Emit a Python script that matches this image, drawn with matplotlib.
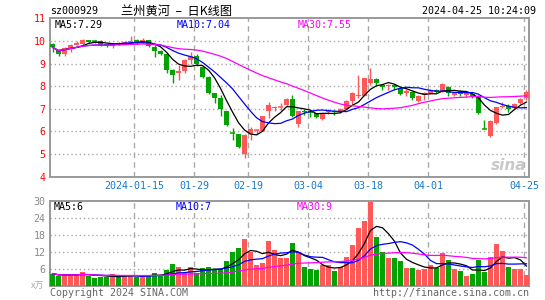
import matplotlib
matplotlib.use('Agg')
import matplotlib.pyplot as plt
import numpy as np
import pandas as pd

# ---------------- data ----------------
dates = [
    '2023-12-25', '2023-12-26', '2023-12-27', '2023-12-28', '2023-12-29',
    '2024-01-02', '2024-01-03', '2024-01-04', '2024-01-05',
    '2024-01-08', '2024-01-09', '2024-01-10', '2024-01-11', '2024-01-12',
    '2024-01-15', '2024-01-16', '2024-01-17', '2024-01-18', '2024-01-19',
    '2024-01-22', '2024-01-23', '2024-01-24', '2024-01-25', '2024-01-26',
    '2024-01-29', '2024-01-30', '2024-01-31', '2024-02-01', '2024-02-02',
    '2024-02-05', '2024-02-06', '2024-02-07', '2024-02-08',
    '2024-02-19', '2024-02-20', '2024-02-21', '2024-02-22', '2024-02-23',
    '2024-02-26', '2024-02-27', '2024-02-28', '2024-02-29', '2024-03-01',
    '2024-03-04', '2024-03-05', '2024-03-06', '2024-03-07', '2024-03-08',
    '2024-03-11', '2024-03-12', '2024-03-13', '2024-03-14', '2024-03-15',
    '2024-03-18', '2024-03-19', '2024-03-20', '2024-03-21', '2024-03-22',
    '2024-03-25', '2024-03-26', '2024-03-27', '2024-03-28', '2024-03-29',
    '2024-04-01', '2024-04-02', '2024-04-03',
    '2024-04-08', '2024-04-09', '2024-04-10', '2024-04-11', '2024-04-12',
    '2024-04-15', '2024-04-16', '2024-04-17', '2024-04-18', '2024-04-19',
    '2024-04-22', '2024-04-23', '2024-04-24', '2024-04-25',
]

opens = [9.88, 9.62, 9.44, 9.70, 9.84, 9.86, 10.02, 9.98, 10.00, 9.85,
         9.78, 9.92, 9.88, 9.96, 10.03, 9.91, 10.03, 9.74, 9.56, 9.41,
         8.71, 8.59, 8.66, 9.15, 9.35, 8.85, 8.41, 7.68, 7.46, 6.90,
         5.92, 5.88, 5.00, 5.88, 6.08, 6.02, 6.91, 7.04, 7.07, 7.15,
         7.43, 6.35, 6.92, 6.90, 6.80, 6.53, 6.86, 6.90, 6.84, 7.00,
         7.34, 7.55, 7.57, 8.12, 8.30, 8.04, 8.00, 8.04, 7.94, 7.71,
         7.75, 7.36, 7.60, 7.71, 7.82, 7.75, 7.97, 7.62, 7.78, 7.60,
         7.64, 7.56, 6.13, 5.79, 6.38, 7.10, 7.12, 7.04, 7.26, 7.46]
highs = [9.92, 9.66, 9.72, 9.86, 9.98, 10.08, 10.06, 10.02, 10.02, 9.88,
         9.92, 9.97, 10.00, 10.22, 10.08, 10.12, 10.06, 9.80, 9.62, 9.45,
         8.74, 8.93, 9.20, 9.50, 9.42, 8.88, 8.45, 7.70, 7.60, 6.92,
         6.14, 5.90, 5.88, 6.18, 6.12, 6.70, 7.31, 7.14, 7.24, 7.48,
         7.60, 6.92, 6.98, 6.95, 6.82, 6.80, 7.00, 6.96, 7.05, 7.38,
         7.76, 8.48, 8.36, 8.79, 8.38, 8.08, 8.10, 8.10, 7.96, 7.86,
         7.80, 7.62, 7.74, 7.86, 7.86, 8.12, 8.02, 7.76, 7.84, 7.72,
         7.70, 7.60, 6.50, 6.50, 7.08, 7.30, 7.20, 7.24, 7.46, 7.82]
lows = [9.50, 9.32, 9.33, 9.52, 9.80, 9.83, 9.93, 9.90, 9.78, 9.72,
        9.70, 9.84, 9.85, 9.93, 9.85, 9.90, 9.75, 9.29, 9.38, 8.59,
        8.15, 8.26, 8.60, 9.00, 8.90, 8.35, 7.66, 7.26, 6.69, 6.24,
        5.62, 5.28, 4.81, 5.60, 5.90, 6.00, 6.59, 6.90, 6.94, 7.12,
        6.62, 6.21, 6.72, 6.62, 6.58, 6.50, 6.78, 6.72, 6.80, 6.98,
        7.16, 7.50, 7.55, 8.04, 8.00, 7.82, 7.82, 7.84, 7.60, 7.56,
        7.40, 7.31, 7.40, 7.66, 7.72, 7.74, 7.57, 7.56, 7.56, 7.54,
        7.50, 6.78, 6.13, 5.76, 6.34, 7.04, 6.87, 7.00, 7.22, 7.40]
closes = [9.72, 9.42, 9.70, 9.83, 9.90, 10.05, 9.96, 9.95, 9.82, 9.76,
          9.90, 9.87, 9.97, 10.00, 9.92, 10.06, 9.76, 9.56, 9.41, 8.72,
          8.51, 8.68, 9.15, 9.32, 8.98, 8.42, 7.68, 7.46, 6.99, 6.28,
          5.89, 5.32, 5.84, 6.09, 6.10, 6.68, 7.16, 7.10, 7.10, 7.42,
          6.68, 6.90, 6.88, 6.82, 6.62, 6.78, 6.90, 6.84, 7.00, 7.34,
          7.71, 7.60, 8.34, 8.32, 8.13, 7.97, 8.04, 7.98, 7.66, 7.79,
          7.47, 7.58, 7.68, 7.82, 7.76, 8.09, 7.68, 7.72, 7.65, 7.68,
          7.56, 6.81, 6.13, 6.46, 7.06, 7.14, 6.97, 7.20, 7.43, 7.75]
volumes = [4.3, 3.5, 3.8, 3.8, 4.0, 4.8, 3.5, 2.8, 3.2, 3.0,
           4.2, 3.0, 3.6, 3.8, 3.2, 3.4, 3.8, 4.6, 3.7, 5.5,
           7.6, 6.5, 4.4, 6.5, 4.6, 6.2, 6.5, 5.8, 6.0, 8.7,
           12.1, 13.2, 16.5, 12.0, 7.3, 7.9, 15.7, 12.6, 9.8, 9.9,
           15.2, 11.8, 6.7, 6.0, 5.6, 7.3, 7.3, 5.3, 6.8, 10.3,
           14.4, 20.5, 23.0, 29.8, 17.4, 12.0, 9.9, 9.8, 8.9, 6.3,
           6.4, 5.6, 6.0, 7.3, 6.3, 11.7, 9.1, 6.0, 5.3, 3.4,
           4.1, 9.2, 4.9, 10.1, 14.8, 12.3, 6.7, 6.0, 6.0, 3.9]

tick_dates = ['2024-01-15', '2024-01-29', '2024-02-19', '2024-03-04',
              '2024-03-18', '2024-04-01', '2024-04-25']
tick_labels = ['2024-01-15', '01-29', '02-19', '03-04', '03-18', '04-01', '04-25']
price_ticks = [4, 5, 6, 7, 8, 9, 10, 11]
vol_ticks = [6, 12, 18, 24, 30]
ma_periods = [5, 10, 30]
ma_colors = ['#000000', '#0000ff', '#ff00ff']
price_ma_text = ['7.29', '7.04', '7.55']
vol_ma_text = ['6', '7', '9']
stock_code = 'sz000929'
title_text = '兰州黄河  –  日K线图'
timestamp = '2024-04-25 10:24:09'
vol_unit = 'x万'
copyright_text = 'Copyright 2024 SINA.COM'
url_text = 'http://finance.sina.com.cn'

# ---------------- styling ----------------
RED = '#ff5858'
GREEN = '#04a304'
GRID = '#aaaaaa'
FRAME = '#999999'
BLUE_LBL = '#1a78c8'
MONO = 'DejaVu Sans Mono'
FS = 7.2

W, H = 545, 300
fig = plt.figure(figsize=(W / 100, H / 100), dpi=100)
fig.patch.set_facecolor('white')


def fx(px):
    return px / W


def fy(py):
    return 1 - py / H


main_l, main_r, main_t, main_b = 50, 529.3, 18.3, 176.7
vol_t, vol_b = 201.0, 285.8
ax = fig.add_axes([fx(main_l), fy(main_b), (main_r - main_l) / W, (main_b - main_t) / H])
axv = fig.add_axes([fx(main_l), fy(vol_b), (main_r - main_l) / W, (vol_b - vol_t) / H])

n = len(dates)
x = np.arange(n)
o = np.array(opens)
h = np.array(highs)
l = np.array(lows)
c = np.array(closes)
v = np.array(volumes)

colors = []
for i in range(n):
    if c[i] > o[i]:
        colors.append(RED)
    elif c[i] < o[i]:
        colors.append(GREEN)
    else:
        prev = c[i - 1] if i > 0 else o[i]
        colors.append(RED if c[i] >= prev else GREEN)

tick_pos = [dates.index(d) - 0.37 for d in tick_dates]

for a in (ax, axv):
    a.set_xlim(-0.42, n - 0.53)
    for sp in a.spines.values():
        sp.set_color(FRAME)
        sp.set_linewidth(1.4)
    for tp in tick_pos:
        a.axvline(tp, color=GRID, lw=1, ls=(0, (4, 3)), zorder=1)

ax.set_ylim(4, 11)
for t in price_ticks[1:-1]:
    ax.axhline(t, color=GRID, lw=1, ls=(0, (1, 2)), zorder=1)
axv.set_ylim(0, 30)
for t in vol_ticks[:-1]:
    axv.axhline(t, color=GRID, lw=1, ls=(0, (1, 2)), zorder=1)

# candles
bw = 0.8
ax.vlines(x, l, h, colors=colors, lw=1, zorder=3)
bottoms = np.minimum(o, c)
heights = np.abs(c - o)
for i in range(n):
    if heights[i] < 0.035:
        ax.hlines(o[i], x[i] - bw / 2, x[i] + bw / 2, colors=colors[i], lw=1.1, zorder=4)
    else:
        ax.bar(x[i], heights[i], bottom=bottoms[i], width=bw, color=colors[i],
               linewidth=0, zorder=4)

# price MAs
cs = pd.Series(c)
for p, col in zip(ma_periods, ma_colors):
    ax.plot(x, cs.rolling(p, min_periods=1).mean(), color=col, lw=0.9, zorder=5)

# volume
axv.bar(x, v, width=bw, color=colors, linewidth=0, zorder=3)
vs = pd.Series(v)
for p, col in zip(ma_periods, ma_colors):
    axv.plot(x, vs.rolling(p, min_periods=1).mean(), color=col, lw=0.9, zorder=5)

# ticks
ax.set_yticks(price_ticks)
ax.set_yticklabels([str(t) for t in price_ticks])
ax.tick_params(axis='y', length=0, pad=3.2, labelcolor='red', labelsize=FS)
ax.set_xticks(tick_pos)
ax.set_xticklabels(tick_labels)
ax.tick_params(axis='x', length=0, pad=3.0, labelcolor=BLUE_LBL, labelsize=FS)
for lab in ax.get_yticklabels() + ax.get_xticklabels():
    lab.set_fontfamily(MONO)

axv.set_yticks(vol_ticks)
axv.set_yticklabels([str(t) for t in vol_ticks])
axv.tick_params(axis='y', length=0, pad=3.2, labelcolor='#888888', labelsize=FS)
axv.set_xticks([])
for lab in axv.get_yticklabels():
    lab.set_fontfamily(MONO)

# header texts
fig.text(fx(50), fy(11.3), stock_code, fontsize=FS, family=MONO, color='black', va='center', ha='left')
fig.text(fx(121), fy(11.0), title_text, fontsize=8.8,
         family=['Noto Sans CJK SC', 'DejaVu Sans'], color='black', va='center', ha='left')
fig.text(fx(536), fy(11.3), timestamp, fontsize=FS, family=MONO, color='black', va='center', ha='right')

leg_x = [55, 177, 298]
for (px_, p, col, val) in zip(leg_x, ma_periods, ma_colors, price_ma_text):
    fig.text(fx(px_), fy(24.6), f'MA{p}:{val}', fontsize=FS, family=MONO, color=col,
             va='center', ha='left')
for (px_, p, col, val) in zip(leg_x, ma_periods, ma_colors, vol_ma_text):
    fig.text(fx(px_ - 1), fy(206.5), f'MA{p}:{val}', fontsize=FS, family=MONO, color=col,
             va='center', ha='left')

fig.text(fx(44), fy(286.5), vol_unit, fontsize=6.5, family=['Noto Sans CJK SC', 'DejaVu Sans'],
         color='#aaaaaa', va='center', ha='right')
fig.text(fx(50), fy(293.5), copyright_text, fontsize=FS, family=MONO, color='#666666',
         va='center', ha='left')
fig.text(fx(529.5), fy(293.5), url_text, fontsize=FS, family=MONO, color='#666666',
         va='center', ha='right')

# watermark
fig.text(fx(526), fy(166), 'sina', fontsize=11, family='DejaVu Sans', style='italic',
         weight='bold', color='#c8c8c8', va='center', ha='right', zorder=0)

fig.savefig('out.png', dpi=100, facecolor='white')
